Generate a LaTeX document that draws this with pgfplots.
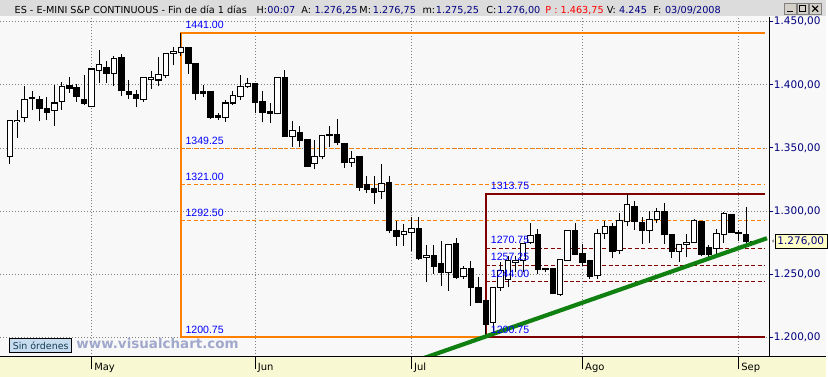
\documentclass[border=0pt]{standalone}
\usepackage{pgfplots}
\pgfplotsset{compat=1.18}
\usepackage{fontspec}
\setmainfont{DejaVu Sans}
\newfontfamily\lib{Liberation Sans}
\definecolor{hdrgray}{RGB}{220,220,220}
\definecolor{plotbg}{RGB}{248,248,248}
\definecolor{band}{RGB}{248,248,210}
\definecolor{navyc}{RGB}{0,0,128}
\definecolor{orng}{RGB}{255,128,0}
\definecolor{dred}{RGB}{128,0,0}
\definecolor{trend}{RGB}{16,128,16}
\definecolor{wm}{RGB}{160,168,204}
\definecolor{sinbg}{RGB}{200,220,240}
\definecolor{pricebg}{RGB}{255,255,200}
\definecolor{btn}{RGB}{212,208,200}
\definecolor{lblue}{RGB}{0,0,255}
\pgfplotsset{
  wick/.style={black, line width=1pt},
  downbody/.style={black, line width=6.5pt},
  upbody/.style={black, line width=6.5pt},
  upinner/.style={white, line width=4.5pt},
}
% x open high low close
\newcommand\candle[5]{%
  \addplot[wick] coordinates {(#1,#4) (#1,#3)};%
  \pgfmathsetmacro\clo{min(#2,#5)-0.4}%
  \pgfmathsetmacro\chi{max(#2,#5)+0.4}%
  \pgfmathsetmacro\cilo{min(#2,#5)+0.4}%
  \pgfmathsetmacro\cihi{max(#2,#5)-0.4}%
  \ifdim #5pt<#2pt
    \edef\candlenext{\noexpand\addplot[downbody] coordinates {(#1,\clo) (#1,\chi)};}%
  \else
    \ifdim \cihi pt>\cilo pt
      \edef\candlenext{\noexpand\addplot[upbody] coordinates {(#1,\clo) (#1,\chi)};\noexpand\addplot[upinner] coordinates {(#1,\cilo) (#1,\cihi)};}%
    \else
      \edef\candlenext{\noexpand\addplot[upbody] coordinates {(#1,\clo) (#1,\chi)};}%
    \fi
  \fi
  \candlenext
}
\newcommand\hd{\fontsize{9.7}{12}\selectfont}
\newcommand\lb{\lib\fontsize{10.6}{12}\selectfont}
\begin{document}
\begin{tikzpicture}
\begin{scope}[x=1pt,y=1pt]
\useasboundingbox (0,0) rectangle (828,378);
\fill[plotbg] (0,0) rectangle (828,378);
\fill[hdrgray] (0,361.5) rectangle (828,378);
\fill[band] (0,0) rectangle (828,20);
\node[anchor=base west, inner sep=0pt] at (14,364.7) {\hd ES - E-MINI S\&P CONTINUOUS - Fin de día 1 días};
\node[anchor=base west, inner sep=0pt] at (256.7,364.7) {\hd H:};
\node[anchor=base west, inner sep=0pt, text=navyc] at (267.7,364.7) {\hd 00:07};
\node[anchor=base west, inner sep=0pt] at (301.7,364.7) {\hd A:};
\node[anchor=base west, inner sep=0pt, text=navyc] at (315,364.7) {\hd 1.276,25};
\node[anchor=base west, inner sep=0pt] at (360,364.7) {\hd M:};
\node[anchor=base west, inner sep=0pt, text=navyc] at (373.5,364.7) {\hd 1.276,75};
\node[anchor=base west, inner sep=0pt] at (423.3,364.7) {\hd m:};
\node[anchor=base west, inner sep=0pt, text=navyc] at (436.7,364.7) {\hd 1.275,25};
\node[anchor=base west, inner sep=0pt] at (487.3,364.7) {\hd C:};
\node[anchor=base west, inner sep=0pt, text=navyc] at (498.3,364.7) {\hd 1.276,00};
\node[anchor=base west, inner sep=0pt, text=red] at (546.7,364.7) {\hd P : 1.463,75};
\node[anchor=base west, inner sep=0pt] at (608.3,364.7) {\hd V:};
\node[anchor=base west, inner sep=0pt, text=navyc] at (620.7,364.7) {\hd 4.245};
\node[anchor=base west, inner sep=0pt] at (655,364.7) {\hd F:};
\node[anchor=base west, inner sep=0pt, text=navyc] at (666.7,364.7) {\hd 03/09/2008};
\foreach \bx in {786.7,799,811.5}{
  \filldraw[fill=btn, draw=gray] (\bx,364) rectangle ++(12,10.5);
}
\draw[line width=1.5pt] (789.7,366.5) -- ++(5.5,0);
\draw[line width=0.8pt] (802,366.3) rectangle ++(6,6);
\draw[line width=1.6pt] (802,372.3) -- ++(6,0);
\draw[line width=1.1pt] (814.5,366.3) -- ++(6,6) (814.5,372.3) -- ++(6,-6);
\end{scope}
\begin{axis}[
  at={(0pt,20pt)}, anchor=south west,
  scale only axis, width=771.7pt, height=341pt,
  xmin=-1.246, xmax=102.14, ymin=1184.8, ymax=1453.7,
  axis x line*=bottom, axis y line*=right,
  axis line style={-, black, line width=1pt},
  xtick={11,33,54,77,98},
  xticklabels={May,Jun,Jul,Ago,Sep},
  ytick={1200,1250,1300,1350,1400,1450},
  yticklabels={{1.200,00},{1.250,00},{1.300,00},{1.350,00},{1.400,00},{1.450,00}},
  tick align=outside,
  xtick style={black, line width=1pt, /pgfplots/major tick length=12pt},
  ytick style={navyc, line width=1pt, /pgfplots/major tick length=4pt},
  yticklabel style={font=\fontsize{10.5}{12}\selectfont, text=navyc, anchor=west, inner sep=0pt},
  xticklabel style={font=\fontsize{10}{12}\selectfont, anchor=north west, inner sep=0pt, xshift=2.5pt, yshift=-2pt},
  grid=major,
  grid style={gray, line width=0.8pt, dash pattern=on 0.8pt off 2.2pt},
  no markers,
]
% Fibonacci 1
\addplot[orng, line width=1pt, dash pattern=on 4pt off 2.5pt] coordinates {(23,1349.25) (101.6,1349.25)};
\addplot[orng, line width=1pt, dash pattern=on 4pt off 2.5pt] coordinates {(23,1321.00) (101.6,1321.00)};
\addplot[orng, line width=1pt, dash pattern=on 4pt off 2.5pt] coordinates {(23,1292.50) (101.6,1292.50)};
\addplot[orng, line width=2pt] coordinates {(64,1200.75) (23,1200.75) (23,1441) (101.6,1441)};
% Fibonacci 2
\addplot[dred, line width=1pt, dash pattern=on 4pt off 2.5pt] coordinates {(64,1270.75) (101.6,1270.75)};
\addplot[dred, line width=1pt, dash pattern=on 4pt off 2.5pt] coordinates {(64,1257.25) (101.6,1257.25)};
\addplot[dred, line width=1pt, dash pattern=on 4pt off 2.5pt] coordinates {(64,1244.00) (101.6,1244.00)};
\addplot[dred, line width=2pt] coordinates {(101.6,1200.75) (64,1200.75) (64,1313.75) (101.6,1313.75)};
% candles
\candle{0}{1343.1}{1372.0}{1337.0}{1371.7}
\candle{1}{1371.0}{1380.4}{1358.0}{1372.0}
\candle{2}{1374.3}{1399.3}{1370.3}{1388.0}
\candle{3}{1389.8}{1394.8}{1380.4}{1388.8}
\candle{4}{1388.2}{1391.4}{1371.1}{1381.4}
\candle{5}{1381.2}{1390.4}{1372.5}{1378.3}
\candle{6}{1379.8}{1400.0}{1367.7}{1385.6}
\candle{7}{1386.9}{1401.9}{1380.4}{1398.3}
\candle{8}{1399.3}{1405.8}{1393.5}{1397.2}
\candle{9}{1397.5}{1400.6}{1386.4}{1390.9}
\candle{10}{1388.2}{1408.0}{1383.8}{1384.9}
\candle{11}{1383.0}{1412.8}{1382.5}{1412.5}
\candle{12}{1411.7}{1427.7}{1401.4}{1416.4}
\candle{13}{1414.0}{1418.5}{1401.4}{1409.3}
\candle{14}{1409.3}{1423.0}{1398.7}{1421.1}
\candle{15}{1421.9}{1424.3}{1390.9}{1395.1}
\candle{16}{1394.6}{1404.0}{1389.0}{1392.0}
\candle{17}{1392.2}{1396.1}{1382.2}{1389.3}
\candle{18}{1388.0}{1405.6}{1386.4}{1405.4}
\candle{19}{1404.0}{1411.1}{1396.7}{1405.4}
\candle{20}{1403.8}{1421.9}{1398.7}{1408.0}
\candle{21}{1407.7}{1425.3}{1405.4}{1425.1}
\candle{22}{1425.1}{1430.3}{1415.3}{1426.7}
\candle{23}{1425.9}{1441.0}{1422.4}{1429.8}
\candle{24}{1429.3}{1430.3}{1408.8}{1417.2}
\candle{25}{1417.2}{1417.5}{1387.7}{1393.5}
\candle{26}{1394.5}{1400.0}{1390.0}{1393.3}
\candle{27}{1394.3}{1394.8}{1373.3}{1374.3}
\candle{28}{1375.6}{1377.8}{1372.5}{1374.3}
\candle{29}{1374.3}{1388.2}{1370.7}{1385.6}
\candle{30}{1385.6}{1395.3}{1384.3}{1391.4}
\candle{31}{1390.4}{1408.0}{1388.2}{1398.3}
\candle{32}{1398.3}{1405.4}{1397.8}{1401.4}
\candle{33}{1401.4}{1401.8}{1377.8}{1386.1}
\candle{34}{1386.4}{1394.8}{1370.3}{1378.2}
\candle{35}{1378.8}{1385.6}{1369.9}{1377.4}
\candle{36}{1377.0}{1405.8}{1376.5}{1405.4}
\candle{37}{1405.4}{1411.9}{1358.8}{1359.3}
\candle{38}{1358.8}{1371.1}{1351.0}{1363.6}
\candle{39}{1362.0}{1367.7}{1351.0}{1356.2}
\candle{40}{1356.7}{1357.0}{1335.3}{1335.6}
\candle{41}{1337.8}{1356.2}{1333.0}{1343.1}
\candle{42}{1343.1}{1360.2}{1340.9}{1359.9}
\candle{43}{1361.0}{1367.7}{1351.0}{1360.0}
\candle{44}{1360.6}{1373.0}{1352.0}{1354.1}
\candle{45}{1353.5}{1353.8}{1334.4}{1338.8}
\candle{46}{1338.8}{1347.5}{1335.0}{1341.5}
\candle{47}{1343.5}{1343.8}{1316.0}{1318.6}
\candle{48}{1321.2}{1327.8}{1314.7}{1317.3}
\candle{49}{1317.8}{1327.8}{1305.4}{1314.7}
\candle{50}{1315.5}{1337.0}{1309.4}{1321.8}
\candle{51}{1323.0}{1328.0}{1283.1}{1284.4}
\candle{52}{1284.9}{1292.3}{1272.6}{1280.0}
\candle{53}{1281.8}{1289.7}{1272.6}{1283.6}
\candle{54}{1283.1}{1295.0}{1268.6}{1286.3}
\candle{55}{1286.3}{1295.0}{1261.5}{1262.6}
\candle{56}{1263.6}{1273.1}{1243.7}{1265.2}
\candle{57}{1265.2}{1273.0}{1250.2}{1256.3}
\candle{58}{1258.9}{1276.5}{1241.0}{1251.6}
\candle{59}{1251.6}{1274.3}{1237.0}{1273.9}
\candle{60}{1274.7}{1278.6}{1246.3}{1247.6}
\candle{61}{1248.4}{1256.8}{1246.3}{1254.7}
\candle{62}{1254.7}{1260.7}{1225.2}{1239.7}
\candle{63}{1239.7}{1247.6}{1227.5}{1227.9}
\candle{64}{1229.2}{1229.5}{1200.75}{1210.3}
\candle{65}{1212.1}{1240.0}{1204.3}{1239.7}
\candle{66}{1239.7}{1259.5}{1237.0}{1252.8}
\candle{67}{1246.3}{1264.7}{1239.7}{1260.7}
\candle{68}{1259.5}{1264.7}{1251.6}{1261.3}
\candle{69}{1260.7}{1275.0}{1251.6}{1274.4}
\candle{70}{1275.2}{1291.0}{1274.0}{1281.0}
\candle{71}{1281.5}{1285.7}{1250.2}{1253.6}
\candle{72}{1254.5}{1254.8}{1251.6}{1253.5}
\candle{73}{1254.7}{1255.0}{1234.2}{1234.5}
\candle{74}{1233.9}{1262.4}{1233.1}{1262.1}
\candle{75}{1260.7}{1285.0}{1260.4}{1284.9}
\candle{76}{1284.9}{1291.0}{1265.7}{1266.0}
\candle{77}{1266.8}{1273.9}{1257.0}{1259.5}
\candle{78}{1261.3}{1261.6}{1246.3}{1248.4}
\candle{79}{1248.9}{1285.7}{1246.5}{1282.6}
\candle{80}{1282.6}{1292.3}{1277.8}{1287.9}
\candle{81}{1287.9}{1290.8}{1262.6}{1267.8}
\candle{82}{1268.6}{1298.9}{1266.0}{1292.3}
\candle{83}{1291.8}{1313.75}{1287.9}{1304.9}
\candle{84}{1303.6}{1308.0}{1285.2}{1291.8}
\candle{85}{1291.0}{1295.0}{1273.9}{1284.4}
\candle{86}{1284.4}{1300.2}{1275.2}{1293.6}
\candle{87}{1293.6}{1302.8}{1291.0}{1299.7}
\candle{88}{1299.7}{1306.8}{1273.9}{1281.8}
\candle{89}{1281.8}{1282.1}{1262.9}{1268.1}
\candle{90}{1268.1}{1274.2}{1260.0}{1273.9}
\candle{91}{1273.6}{1281.8}{1263.4}{1275.2}
\candle{92}{1275.2}{1294.2}{1275.0}{1292.3}
\candle{93}{1291.5}{1292.0}{1264.2}{1266.0}
\candle{94}{1271.3}{1273.3}{1262.8}{1266.0}
\candle{95}{1270.5}{1285.7}{1264.7}{1282.0}
\candle{96}{1281.8}{1299.4}{1275.2}{1298.3}
\candle{97}{1297.6}{1297.9}{1282.8}{1283.1}
\candle{98}{1283.0}{1285.2}{1276.5}{1282.0}
\candle{99}{1281.8}{1303.6}{1272.1}{1275.7}
\candle{100}{1276.25}{1276.75}{1275.25}{1276.0}
% trend line
\addplot[trend, line width=4.2pt] coordinates {(55.7,1183.8) (101.8,1278.6)};
% level labels
\node[anchor=base west, inner sep=0pt, text=lblue, xshift=4.5pt, yshift=4.3pt] at (axis cs:23,1441) {\lb 1441.00};
\node[anchor=base west, inner sep=0pt, text=lblue, xshift=4.5pt, yshift=4.3pt] at (axis cs:23,1349.25) {\lb 1349.25};
\node[anchor=base west, inner sep=0pt, text=lblue, xshift=4.5pt, yshift=4.3pt] at (axis cs:23,1321) {\lb 1321.00};
\node[anchor=base west, inner sep=0pt, text=lblue, xshift=4.5pt, yshift=4.3pt] at (axis cs:23,1292.5) {\lb 1292.50};
\node[anchor=base west, inner sep=0pt, text=lblue, xshift=4.5pt, yshift=3.4pt] at (axis cs:23,1200.75) {\lb 1200.75};
\node[anchor=base west, inner sep=0pt, text=lblue, xshift=5pt, yshift=4.3pt] at (axis cs:64,1313.75) {\lb 1313.75};
\node[anchor=base west, inner sep=0pt, text=lblue, xshift=5pt, yshift=4.3pt] at (axis cs:64,1270.75) {\lb 1270.75};
\node[anchor=base west, inner sep=0pt, text=lblue, xshift=5pt, yshift=4.3pt] at (axis cs:64,1257.25) {\lb 1257.25};
\node[anchor=base west, inner sep=0pt, text=lblue, xshift=5pt, yshift=4.3pt] at (axis cs:64,1244) {\lb 1244.00};
\node[anchor=base west, inner sep=0pt, text=lblue, xshift=5pt, yshift=3.4pt] at (axis cs:64,1200.75) {\lb 1200.75};
\end{axis}
\begin{scope}[x=1pt,y=1pt]
\draw[line width=1pt] (0,20) -- (828,20);
\filldraw[fill=sinbg, draw=black, line width=0.8pt] (9.3,24) rectangle (71.3,38.7);
\node[inner sep=0pt, text={rgb,255:red,20;green,60;blue,80}] at (40.3,31.2) {\fontsize{9.5}{10}\selectfont Sin órdenes};
\node[anchor=base west, inner sep=0pt, text=wm] at (76,28.5) {\fontsize{13.5}{14}\selectfont\bfseries www.visualchart.com};
\filldraw[fill=pricebg, draw=black, line width=0.8pt] (777.7,129.2) rectangle (830,142.4);
\node[anchor=west, inner sep=0pt, text=navyc] at (779.5,135.8) {\fontsize{10.5}{12}\selectfont 1.276,00};
\node[anchor=east, inner sep=0pt] at (777,135.8) {\fontsize{7}{8}\selectfont ‹};
\end{scope}
\end{tikzpicture}
\end{document}
